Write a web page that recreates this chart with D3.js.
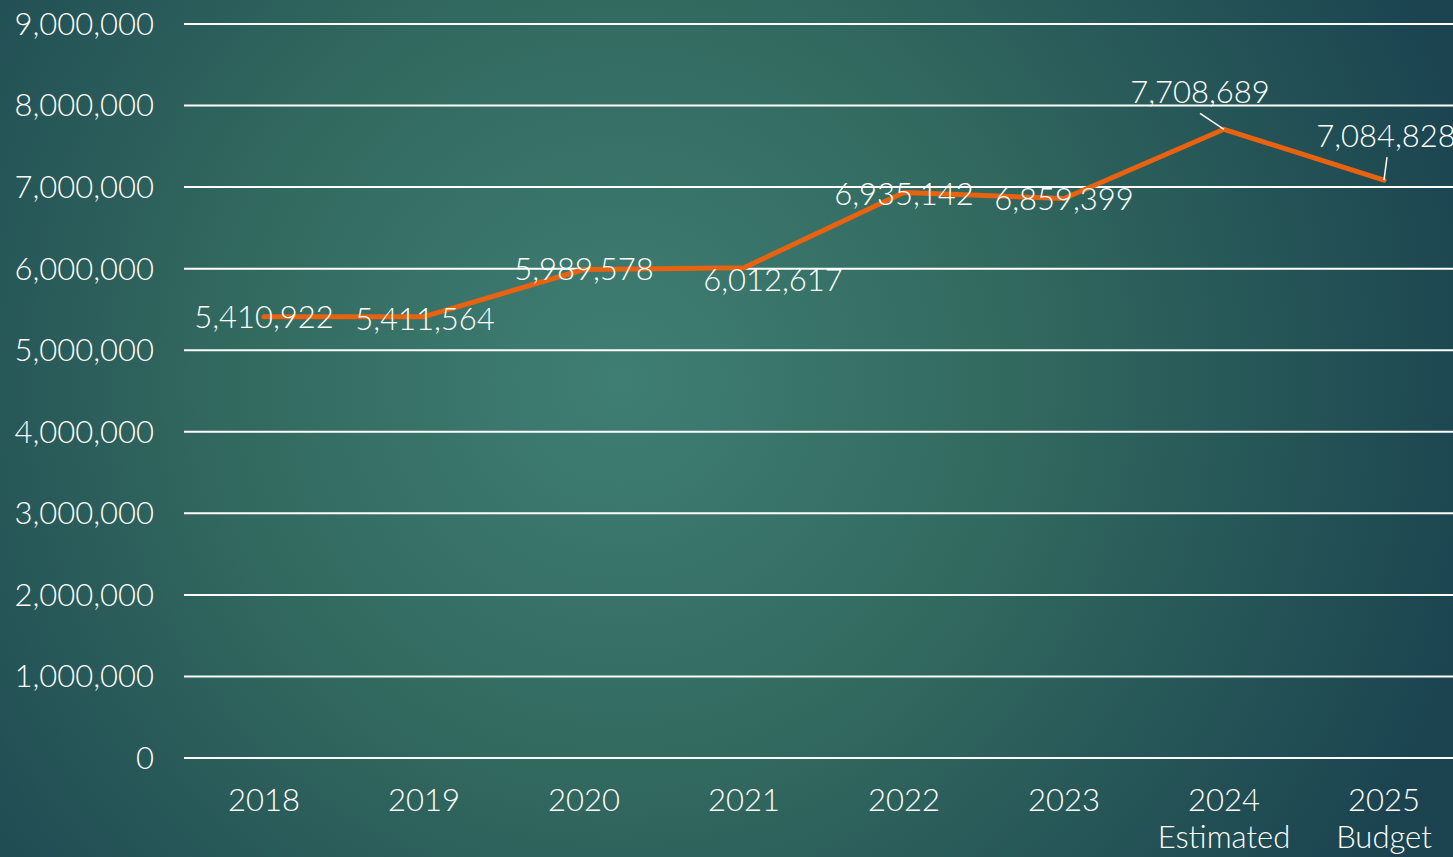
<!DOCTYPE html>
<html>
<head>
<meta charset="utf-8">
<script src="https://cdn.jsdelivr.net/npm/d3@7"></script>
<style>
  html, body { margin: 0; padding: 0; overflow: hidden; }
  svg { display: block; }
</style>
</head>
<body>
<svg id="chart" width="1453" height="857"></svg>
<script>
var years = ["2018", "2019", "2020", "2021", "2022", "2023", "2024", "2025"];
var subLabels = ["", "", "", "", "", "", "Estimated", "Budget"];
var values = [5410922, 5411564, 5989578, 6012617, 6935142, 6859399, 7708689, 7084828];
var yTicks = [0, 1000000, 2000000, 3000000, 4000000, 5000000, 6000000, 7000000, 8000000, 9000000];

var width = 1453, height = 857;
var lineColor = "#e8620f";
var fontFamily = "Lato, 'Open Sans', sans-serif";
var fontSize = 31;

var svg = d3.select("#chart");

// background
var defs = svg.append("defs");
var grad = defs.append("radialGradient")
    .attr("id", "bg")
    .attr("gradientUnits", "userSpaceOnUse")
    .attr("cx", 620).attr("cy", 380).attr("r", 880);
grad.append("stop").attr("offset", "0%").attr("stop-color", "#3f7e73");
grad.append("stop").attr("offset", "45%").attr("stop-color", "#32695f");
grad.append("stop").attr("offset", "100%").attr("stop-color", "#1b4450");

svg.append("rect")
    .attr("width", width).attr("height", height)
    .attr("fill", "url(#bg)");

var x = d3.scaleBand()
    .domain(years)
    .range([184, 1464]);

var y = d3.scaleLinear()
    .domain([0, 9000000])
    .range([758, 24]);

// gridlines
svg.append("g")
    .selectAll("line")
    .data(yTicks)
    .join("line")
    .attr("x1", 184)
    .attr("x2", width)
    .attr("y1", function(d) { return y(d); })
    .attr("y2", function(d) { return y(d); })
    .attr("stroke", "#ffffff")
    .attr("stroke-width", 2);

// y labels
svg.append("g")
    .selectAll("text")
    .data(yTicks)
    .join("text")
    .attr("x", 154)
    .attr("y", function(d) { return y(d); })
    .attr("dy", "0.35em")
    .attr("text-anchor", "end")
    .attr("fill", "#ffffff")
    .attr("font-family", fontFamily)
    .attr("font-weight", 300)
    .attr("font-size", fontSize)
    .text(function(d) { return d3.format(",")(d); });

// x labels
var xl = svg.append("g")
    .selectAll("text")
    .data(years)
    .join("text")
    .attr("x", function(d) { return x(d) + x.bandwidth() / 2; })
    .attr("y", 811)
    .attr("text-anchor", "middle")
    .attr("fill", "#ffffff")
    .attr("font-family", fontFamily)
    .attr("font-weight", 300)
    .attr("font-size", fontSize);
xl.append("tspan")
    .text(function(d) { return d; });
xl.append("tspan")
    .attr("x", function(d) { return x(d) + x.bandwidth() / 2; })
    .attr("dy", 37)
    .text(function(d, i) { return subLabels[i]; });

// line
var pts = years.map(function(d, i) { return [x(d) + x.bandwidth() / 2, y(values[i])]; });
svg.append("path")
    .datum(pts)
    .attr("fill", "none")
    .attr("stroke", lineColor)
    .attr("stroke-width", 5)
    .attr("stroke-linejoin", "round")
    .attr("stroke-linecap", "round")
    .attr("d", d3.line());

// data labels: offsets from the point (label centre)
var labelOffsets = [[0, 0], [1, 2], [0, 0], [29, 13], [0, 2], [0, 1], [-24, -37], [2, -44]];
var leaders = [null, null, null, null, null, null, [[-24, -16], [0, 0]], [[3, -23], [0, 0]]];

svg.append("g")
    .selectAll("text")
    .data(values)
    .join("text")
    .attr("x", function(d, i) { return pts[i][0] + labelOffsets[i][0]; })
    .attr("y", function(d, i) { return pts[i][1] + labelOffsets[i][1]; })
    .attr("dy", "0.35em")
    .attr("text-anchor", "middle")
    .attr("fill", "#ffffff")
    .attr("font-family", fontFamily)
    .attr("font-weight", 300)
    .attr("font-size", fontSize)
    .text(function(d) { return d3.format(",")(d); });

svg.append("g")
    .selectAll("line")
    .data(leaders.map(function(l, i) { return l ? { l: l, p: pts[i] } : null; }).filter(Boolean))
    .join("line")
    .attr("x1", function(d) { return d.p[0] + d.l[0][0]; })
    .attr("y1", function(d) { return d.p[1] + d.l[0][1]; })
    .attr("x2", function(d) { return d.p[0] + d.l[1][0]; })
    .attr("y2", function(d) { return d.p[1] + d.l[1][1]; })
    .attr("stroke", "#ffffff")
    .attr("stroke-width", 1.5);
</script>
</body>
</html>
